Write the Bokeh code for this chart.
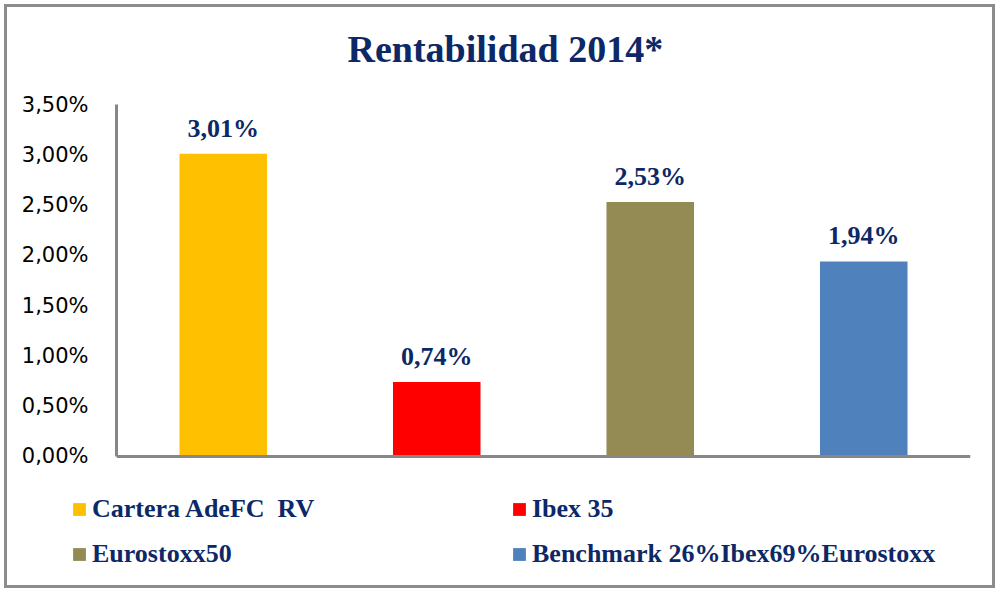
from bokeh.plotting import figure
from bokeh.layouts import column
from bokeh.models import (ColumnDataSource, FixedTicker, LabelSet, Legend,
                          LegendItem, Span)
from bokeh.embed import file_html
from bokeh.resources import INLINE

title_text = "Rentabilidad 2014*"
categories = ["Cartera AdeFC  RV", "Ibex 35", "Eurostoxx50",
              "Benchmark 26%Ibex69%Eurostoxx"]
values = [3.01, 0.74, 2.53, 1.94]
colors = ["#FFC000", "#FF0000", "#948A54", "#4F81BD"]
tick_values = [0, 0.5, 1.0, 1.5, 2.0, 2.5, 3.0, 3.5]
tick_labels = ["0,00%", "0,50%", "1,00%", "1,50%", "2,00%", "2,50%",
               "3,00%", "3,50%"]
value_labels = [f"{v:.2f}%".replace(".", ",") for v in values]

NAVY = "#0C2867"
GRAY = "#878787"

src = ColumnDataSource(dict(cat=categories, val=values, color=colors,
                            lbl=value_labels))

# ---- title strip ----
t = figure(width=985, height=80, output_backend="svg", toolbar_location=None,
           min_border_left=0, min_border_right=0, min_border_top=0,
           min_border_bottom=0)
t.frame_align = False
t.xaxis.visible = False
t.yaxis.visible = False
t.xgrid.grid_line_color = None
t.ygrid.grid_line_color = None
t.outline_line_color = None
t.title.text = title_text
t.title.text_font = "Liberation Serif"
t.title.text_font_style = "bold"
t.title.text_font_size = "38px"
t.title.text_color = NAVY
t.title.align = "left"
t.title.offset = 340
t.title.standoff = 36

# ---- chart ----
p = figure(x_range=categories, y_range=(-0.02, 3.5), width=985, height=391,
           output_backend="svg", toolbar_location=None,
           min_border_left=109, min_border_right=22,
           min_border_top=17, min_border_bottom=20)
p.frame_align = False

r = p.vbar(x="cat", top="val", width=0.41, source=src, fill_color="color",
           line_color=None)

labels = LabelSet(x="cat", y="val", text="lbl", source=src,
                  text_align="center", text_baseline="alphabetic",
                  y_offset=17, text_font="Liberation Serif",
                  text_font_style="bold", text_font_size="26px",
                  text_color=NAVY)
p.add_layout(labels)

baseline = Span(location=0, dimension="width", line_color=GRAY, line_width=3)
p.add_layout(baseline)

p.xgrid.grid_line_color = None
p.ygrid.grid_line_color = None
p.outline_line_color = None

p.yaxis.ticker = FixedTicker(ticks=tick_values)
p.yaxis.bounds = (0, 3.5)
p.yaxis.major_label_overrides = {t_: l for t_, l in zip(tick_values, tick_labels)}
p.yaxis.major_label_text_font = "DejaVu Sans"
p.yaxis.major_label_text_font_size = "21px"
p.yaxis.major_label_text_color = "#000000"
p.yaxis.major_label_standoff = 22
p.yaxis.major_tick_line_color = None
p.yaxis.minor_tick_line_color = None
p.yaxis.axis_line_color = GRAY
p.yaxis.axis_line_width = 3
p.xaxis.visible = False

# ---- legend strip ----
q = figure(x_range=categories, y_range=(10, 11), width=985, height=107,
           output_backend="svg", toolbar_location=None,
           min_border_left=0, min_border_right=0, min_border_top=0,
           min_border_bottom=0)
q.frame_align = False
q.xaxis.visible = False
q.yaxis.visible = False
q.xgrid.grid_line_color = None
q.ygrid.grid_line_color = None
q.outline_line_color = None
rq = q.vbar(x="cat", top="val", width=0.41, source=src, fill_color="color",
            line_color=None)


def make_legend(idx, x):
    items = [LegendItem(label=categories[i], renderers=[rq], index=i)
             for i in idx]
    return Legend(items=items, location=(x, 16), glyph_width=16,
                  glyph_height=16, label_standoff=5, label_height=30,
                  spacing=15, padding=0, margin=0,
                  label_text_font="Liberation Serif",
                  label_text_font_style="bold", label_text_font_size="26px",
                  label_text_color=NAVY, border_line_color=None,
                  background_fill_alpha=0)


q.add_layout(make_legend([0, 2], 64))
q.add_layout(make_legend([1, 3], 504))

layout = column(t, p, q, spacing=0,
                styles={"border": "3px solid #8C8C8C", "margin": "4px",
                        "box-sizing": "content-box"})

open("out.html", "w").write(file_html(layout, INLINE))
